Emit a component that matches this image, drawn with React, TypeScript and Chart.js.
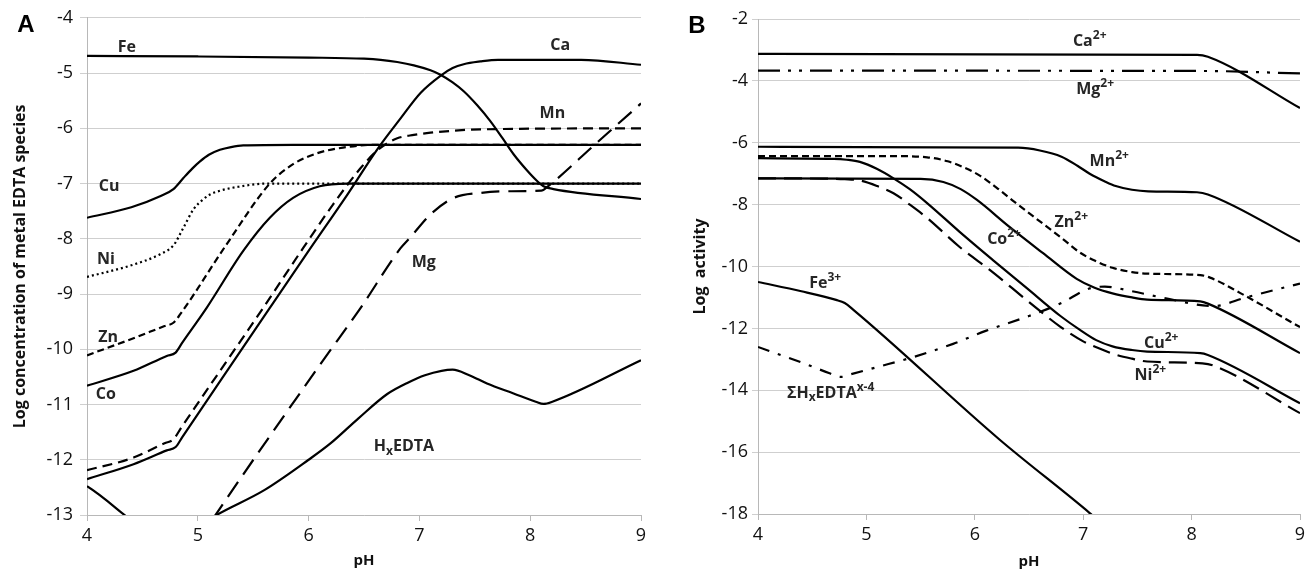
import React, { useEffect, useRef } from 'react';
import { Chart, registerables } from 'chart.js';
Chart.register(...registerables);

type P = [number, number];

// ---------- Panel A: log concentration of metal EDTA species ----------
const A_FE: P[] = [[4,-4.69],[5,-4.70],[6,-4.72],[6.5,-4.74],[6.65,-4.76],[6.8,-4.8],[6.95,-4.86],[7.1,-4.95],[7.19,-5.03],[7.3,-5.17],[7.4,-5.33],[7.52,-5.58],[7.64,-5.87],[7.75,-6.18],[7.85,-6.47],[7.97,-6.76],[8.06,-6.95],[8.12,-7.05],[8.21,-7.1],[9,-7.28]];
const A_CA: P[] = [[4,-12.35],[4.42,-12.08],[4.72,-11.83],[4.8,-11.77],[4.86,-11.59],[5.2,-10.58],[5.65,-9.25],[6.0,-8.22],[6.35,-7.2],[6.62,-6.38],[6.83,-5.82],[7.01,-5.36],[7.19,-5.05],[7.3,-4.91],[7.4,-4.84],[7.55,-4.79],[7.71,-4.76],[8.46,-4.76],[9,-4.85]];
const A_MN: P[] = [[4,-12.19],[4.42,-11.96],[4.7,-11.7],[4.78,-11.63],[4.85,-11.42],[5.59,-9.25],[5.95,-8.17],[6.22,-7.38],[6.47,-6.72],[6.62,-6.4],[6.72,-6.26],[6.8,-6.18],[6.95,-6.12],[7.1,-6.08],[7.55,-6.02],[9,-6.0]];
const A_MG: P[] = [[4,-14.6],[4.8,-14.1],[5.17,-12.97],[6.11,-10.26],[6.47,-9.25],[6.83,-8.17],[6.92,-7.97],[7.1,-7.56],[7.31,-7.26],[7.55,-7.17],[7.8,-7.14],[8.1,-7.13],[8.16,-7.05],[8.58,-6.3],[9,-5.55]];
const A_CU: P[] = [[4,-7.62],[4.4,-7.43],[4.66,-7.23],[4.78,-7.1],[4.87,-6.9],[4.95,-6.73],[5.02,-6.6],[5.1,-6.48],[5.2,-6.39],[5.3,-6.34],[5.41,-6.31],[5.86,-6.3],[9,-6.3]];
const A_NI: P[] = [[4,-8.69],[4.4,-8.48],[4.66,-8.28],[4.78,-8.12],[4.87,-7.8],[4.96,-7.47],[5.04,-7.3],[5.11,-7.2],[5.2,-7.13],[5.36,-7.06],[5.63,-7.0],[9,-7.0]];
const A_ZN: P[] = [[4,-10.11],[4.42,-9.8],[4.7,-9.58],[4.78,-9.52],[4.84,-9.37],[5.26,-8.1],[5.65,-7.0],[5.86,-6.65],[6.08,-6.45],[6.31,-6.35],[6.59,-6.3],[9,-6.3]];
const A_CO: P[] = [[4,-10.66],[4.42,-10.39],[4.72,-10.12],[4.8,-10.06],[4.86,-9.88],[5.08,-9.25],[5.41,-8.22],[5.65,-7.62],[5.86,-7.26],[6.1,-7.05],[6.35,-7.0],[9,-7.0]];
const A_EDTA: P[] = [[4,-12.48],[4.8,-13.47],[5.17,-13.0],[5.6,-12.55],[6.0,-12.0],[6.2,-11.7],[6.45,-11.25],[6.71,-10.81],[6.9,-10.6],[7.05,-10.47],[7.2,-10.39],[7.3,-10.37],[7.45,-10.47],[7.61,-10.62],[7.85,-10.8],[8.05,-10.95],[8.12,-10.99],[8.2,-10.95],[9,-10.2]];

// ---------- Panel B: log activity ----------
const B_CA: P[] = [[4,-3.13],[8.05,-3.16],[8.15,-3.22],[9,-4.88]];
const B_MG: P[] = [[4,-3.67],[8.1,-3.68],[9,-3.76]];
const B_MN: P[] = [[4,-6.13],[6.4,-6.16],[6.6,-6.25],[6.8,-6.45],[6.95,-6.75],[7.06,-7.0],[7.2,-7.25],[7.3,-7.4],[7.45,-7.52],[7.6,-7.57],[8.05,-7.6],[8.15,-7.67],[9,-9.2]];
const B_ZN: P[] = [[4,-6.43],[5.2,-6.43],[5.56,-6.47],[5.75,-6.6],[5.9,-6.8],[6.05,-7.07],[6.2,-7.45],[6.35,-7.87],[6.54,-8.38],[6.79,-9.05],[6.97,-9.55],[7.1,-9.8],[7.27,-10.04],[7.45,-10.18],[7.59,-10.23],[8.08,-10.28],[8.17,-10.36],[8.45,-10.86],[9,-11.96]];
const B_CO: P[] = [[4,-7.15],[5.5,-7.17],[5.71,-7.27],[5.87,-7.5],[6.02,-7.85],[6.32,-8.72],[6.63,-9.57],[6.94,-10.4],[7.1,-10.68],[7.27,-10.87],[7.45,-11.0],[7.59,-11.07],[8.08,-11.13],[8.15,-11.2],[9,-12.8]];
const B_CU: P[] = [[4,-6.5],[4.7,-6.52],[4.82,-6.55],[4.94,-6.62],[5.1,-6.85],[5.25,-7.15],[5.4,-7.5],[5.56,-7.95],[5.86,-8.88],[6.17,-9.8],[6.48,-10.7],[6.79,-11.6],[6.97,-12.05],[7.12,-12.38],[7.27,-12.58],[7.45,-12.7],[7.59,-12.75],[8.08,-12.8],[8.15,-12.86],[9,-14.42]];
const B_NI: P[] = [[4,-7.15],[4.6,-7.16],[4.8,-7.18],[4.94,-7.22],[5.1,-7.4],[5.25,-7.63],[5.4,-8.0],[5.56,-8.43],[5.86,-9.37],[6.17,-10.2],[6.48,-11.09],[6.79,-11.95],[7.0,-12.42],[7.15,-12.65],[7.27,-12.82],[7.45,-12.98],[7.59,-13.07],[8.1,-13.13],[8.2,-13.2],[9,-14.74]];
const B_FE: P[] = [[4,-10.5],[4.4,-10.8],[4.72,-11.08],[4.8,-11.18],[4.88,-11.4],[6.23,-15.6],[7.06,-17.97],[7.2,-18.4]];
const B_EDTA: P[] = [[4,-12.6],[4.4,-13.1],[4.66,-13.45],[4.76,-13.57],[4.86,-13.48],[5.1,-13.25],[5.43,-12.93],[5.8,-12.5],[6.1,-12.08],[6.5,-11.6],[6.8,-11.18],[7.05,-10.72],[7.2,-10.65],[7.45,-10.8],[7.75,-11.02],[8.2,-11.28],[8.5,-11.0],[9,-10.55]];

// ---------- axis ticks ----------
const X_MIN = 4, X_MAX = 9, X_STEP = 1;
const A_Y_MIN = -13, A_Y_MAX = -4, A_Y_STEP = 1;
const B_Y_MIN = -18, B_Y_MAX = -2, B_Y_STEP = 2;

// ---------- curve labels (text, pH, value) ----------
const A_LABELS: [string, number, number][] = [
  ['Fe', 4.36, -4.52], ['Ca', 8.27, -4.47], ['Mn', 8.2, -5.71], ['Cu', 4.2, -7.03],
  ['Ni', 4.17, -8.35], ['Mg', 7.04, -8.4], ['Zn', 4.19, -9.77], ['Co', 4.17, -10.8],
  ['H_{x}EDTA', 6.86, -11.74],
];
const B_LABELS: [string, number, number][] = [
  ['Ca^{2+}', 7.06, -2.68], ['Mg^{2+}', 7.11, -4.23], ['Mn^{2+}', 7.24, -6.56],
  ['Zn^{2+}', 6.89, -8.53], ['Co^{2+}', 6.27, -9.08], ['Fe^{3+}', 4.62, -10.5],
  ['ΣH_{x}EDTA^{x-4}', 4.67, -14.06], ['Cu^{2+}', 7.72, -12.44], ['Ni^{2+}', 7.62, -13.48],
];

const FONT = '"Open Sans", "DejaVu Sans", sans-serif';
const SOLID: number[] = [];
const toXY = (arr: P[]) => arr.map(([x, y]) => ({ x, y }));

type Seg = { t: string; k: number };
function parseRich(s: string): Seg[] {
  const out: Seg[] = [];
  const re = /([\^_])\{([^}]*)\}/g;
  let last = 0; let m: RegExpExecArray | null;
  while ((m = re.exec(s))) {
    if (m.index > last) out.push({ t: s.slice(last, m.index), k: 0 });
    out.push({ t: m[2], k: m[1] === '^' ? 1 : -1 });
    last = re.lastIndex;
  }
  if (last < s.length) out.push({ t: s.slice(last), k: 0 });
  return out;
}

function drawRich(ctx: CanvasRenderingContext2D, s: string, cx: number, cy: number, size: number) {
  const segs = parseRich(s);
  const small = Math.round(size * 0.72);
  const fontFor = (k: number) => `bold ${k === 0 ? size : small}px ${FONT}`;
  let total = 0;
  for (const sg of segs) { ctx.font = fontFor(sg.k); total += ctx.measureText(sg.t).width; }
  let x = cx - total / 2;
  const base = cy + size * 0.36;
  ctx.textAlign = 'left';
  ctx.textBaseline = 'alphabetic';
  for (const sg of segs) {
    ctx.font = fontFor(sg.k);
    const dy = sg.k === 1 ? -size * 0.42 : sg.k === -1 ? size * 0.22 : 0;
    ctx.fillText(sg.t, x, base + dy);
    x += ctx.measureText(sg.t).width;
  }
}

function makePlugin(labels: [string, number, number][], letter: string, lx: number, ly: number) {
  return {
    id: 'curveLabels',
    afterDatasetsDraw(chart: any) {
      const { ctx, scales } = chart;
      ctx.save();
      ctx.fillStyle = '#262626';
      for (const [t, x, y] of labels) {
        drawRich(ctx, t, scales.x.getPixelForValue(x), scales.y.getPixelForValue(y), 16);
      }
      ctx.fillStyle = '#000';
      ctx.font = `bold 24px "Liberation Sans", Arial, sans-serif`;
      ctx.textAlign = 'center';
      ctx.textBaseline = 'middle';
      ctx.fillText(letter, lx, ly);
      ctx.restore();
    },
  };
}

function ds(data: P[], dash: number[], width = 2.2) {
  return {
    data: toXY(data),
    borderColor: '#000',
    borderWidth: width,
    borderDash: dash,
    pointRadius: 0,
    tension: 0,
    cubicInterpolationMode: 'monotone' as const,
    fill: false,
  };
}

function makeConfig(opts: {
  datasets: any[]; yMin: number; yMax: number; yStep: number; yTitle: string;
  padding: any; yWidth: number; xHeight: number; yTickLen: number; yTickPad: number; titleBottomPad: number;
  plugin: any;
}) {
  return {
    type: 'line' as const,
    data: { datasets: opts.datasets },
    options: {
      responsive: false,
      animation: false as const,
      layout: { padding: opts.padding },
      plugins: { legend: { display: false }, tooltip: { enabled: false } },
      scales: {
        x: {
          type: 'linear' as const,
          min: X_MIN, max: X_MAX,
          ticks: { stepSize: X_STEP, color: '#111', font: { family: FONT, size: 18 }, padding: 4 },
          grid: { drawOnChartArea: false, drawTicks: true, tickLength: 6, color: '#b8b8b8' },
          border: { display: true, color: '#b8b8b8', width: 1 },
          title: { display: true, text: 'pH', color: '#111', font: { family: FONT, size: 15, weight: 'bold' as const }, padding: { top: 0, bottom: opts.titleBottomPad } },
          afterFit: (s: any) => { s.height = opts.xHeight; },
        },
        y: {
          type: 'linear' as const,
          min: opts.yMin, max: opts.yMax,
          ticks: { stepSize: opts.yStep, color: '#111', font: { family: FONT, size: 18 }, padding: opts.yTickPad },
          grid: { drawOnChartArea: true, drawTicks: true, tickLength: opts.yTickLen, color: '#cfcfcf', lineWidth: 1 },
          border: { display: true, color: '#b8b8b8', width: 1 },
          title: { display: true, text: opts.yTitle, color: '#111', font: { family: FONT, size: 16, weight: 'bold' as const }, padding: { top: 3, bottom: 0 } },
          afterFit: (s: any) => { s.width = opts.yWidth; },
        },
      },
    },
    plugins: [opts.plugin],
  };
}

export default function App() {
  const refA = useRef<HTMLCanvasElement>(null);
  const refB = useRef<HTMLCanvasElement>(null);

  useEffect(() => {
    const dsA = [
      ds(A_FE, SOLID), ds(A_CA, SOLID), ds(A_CU, SOLID), ds(A_CO, SOLID), ds(A_EDTA, SOLID),
      ds(A_NI, [2, 3]), ds(A_ZN, [7, 4]), ds(A_MN, [10, 6]), ds(A_MG, [18, 9]),
    ];
    const dsB = [
      ds(B_CA, SOLID), ds(B_MN, SOLID), ds(B_CO, SOLID), ds(B_CU, SOLID), ds(B_FE, SOLID),
      ds(B_MG, [22, 8, 3, 8, 3, 8]), ds(B_ZN, [7, 4]), ds(B_NI, [18, 8]), ds(B_EDTA, [12, 9, 3, 9]),
    ];
    const chartA = new Chart(refA.current!, makeConfig({
      datasets: dsA, yMin: A_Y_MIN, yMax: A_Y_MAX, yStep: A_Y_STEP,
      yTitle: 'Log concentration of metal EDTA species',
      padding: { left: 8, right: 19, top: 16, bottom: 0 }, yWidth: 79, xHeight: 56,
      yTickLen: 7, yTickPad: 7, titleBottomPad: 1,
      plugin: makePlugin(A_LABELS, 'A', 26, 25),
    }) as any);
    const chartB = new Chart(refB.current!, makeConfig({
      datasets: dsB, yMin: B_Y_MIN, yMax: B_Y_MAX, yStep: B_Y_STEP,
      yTitle: 'Log  activity',
      padding: { left: 28, right: 13, top: 19, bottom: 0 }, yWidth: 70, xHeight: 57,
      yTickLen: 6, yTickPad: 4, titleBottomPad: 0,
      plugin: makePlugin(B_LABELS, 'B', 37, 26),
    }) as any);
    return () => { chartA.destroy(); chartB.destroy(); };
  }, []);

  return (
    <div style={{ position: 'absolute', left: 0, top: 0, width: 1313, height: 571, background: '#fff' }}>
      <canvas ref={refA} width={660} height={571} style={{ position: 'absolute', left: 0, top: 0, display: 'block' }} />
      <canvas ref={refB} width={653} height={571} style={{ position: 'absolute', left: 660, top: 0, display: 'block' }} />
    </div>
  );
}
